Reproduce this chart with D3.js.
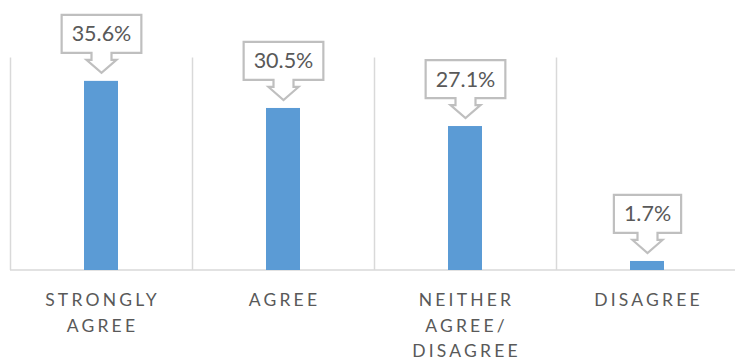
<!DOCTYPE html>
<html><head><meta charset="utf-8">
<script src="https://cdn.jsdelivr.net/npm/d3@7"></script>
<style>
html,body{margin:0;padding:0;background:#fff;}
svg{display:block;}
</style></head>
<body>
<svg id="chart" width="735" height="360"></svg>
<script>
const categories = ["STRONGLY AGREE", "AGREE", "NEITHER AGREE/ DISAGREE", "DISAGREE"];
const categoryLines = [["STRONGLY", "AGREE"], ["AGREE"], ["NEITHER", "AGREE/", "DISAGREE"], ["DISAGREE"]];
const values = [35.6, 30.5, 27.1, 1.7];
const valueLabels = ["35.6%", "30.5%", "27.1%", "1.7%"];

(function () {
const svg = d3.select("#chart");
const plotLeft = 10, plotRight = 738, plotTop = 57.5, plotBottom = 270;
const font = "Lato, 'Open Sans', sans-serif";
const textColor = "#595959";

const x = d3.scaleBand().domain(categories).range([plotLeft, plotRight]).paddingInner(0).paddingOuter(0);
const y = d3.scaleLinear().domain([0, 40]).range([plotBottom, plotTop]);

// vertical gridlines at band boundaries
const bounds = categories.map(c => x(c)).concat([plotRight]);
svg.append("g").selectAll("line").data(bounds).join("line")
  .attr("x1", d => Math.round(d) + 0.5).attr("x2", d => Math.round(d) + 0.5)
  .attr("y1", plotTop).attr("y2", plotBottom)
  .attr("stroke", "#D9D9D9").attr("stroke-width", 1.5);

// baseline
svg.append("line").attr("x1", plotLeft).attr("x2", plotRight).attr("y1", plotBottom).attr("y2", plotBottom)
  .attr("stroke", "#D9D9D9").attr("stroke-width", 1.5);

const barW = 34;
svg.append("g").selectAll("rect").data(values).join("rect")
  .attr("x", (d, i) => x(categories[i]) + x.bandwidth() / 2 - barW / 2)
  .attr("width", barW)
  .attr("y", d => y(d))
  .attr("height", d => plotBottom - y(d))
  .attr("fill", "#5B9BD5");

// callouts
const cg = svg.append("g");
values.forEach((v, i) => {
  const cx = x(categories[i]) + x.bandwidth() / 2 + 0.5;
  const tip = y(v) - 8;
  const g = cg.append("g");
  const t = g.append("text").text(valueLabels[i])
    .attr("x", cx).attr("text-anchor", "middle")
    .attr("font-family", font).attr("font-size", 21.5).attr("fill", textColor);
  const tw = t.node().getComputedTextLength();
  const bw = tw + 20, bh = 38;
  const headH = 13, shaftH = 7, shaftHalf = 10, headHalf = 15;
  const by = tip - headH - shaftH; // box bottom
  const bt = by - bh;
  const bl = cx - bw / 2, br = cx + bw / 2;
  const path = [
    [bl, bt], [br, bt], [br, by], [cx + shaftHalf, by], [cx + shaftHalf, by + shaftH],
    [cx + headHalf, by + shaftH], [cx, tip], [cx - headHalf, by + shaftH],
    [cx - shaftHalf, by + shaftH], [cx - shaftHalf, by], [bl, by]
  ];
  g.insert("path", "text").attr("d", d3.line()(path) + "Z")
    .attr("fill", "#fff").attr("stroke", "#BFBFBF").attr("stroke-width", 2.2)
    .attr("stroke-linejoin", "miter");
  t.attr("y", bt + bh / 2 + 7.5);
});

// category labels
const lg = svg.append("g");
categoryLines.forEach((lines, i) => {
  const cx = x(categories[i]) + x.bandwidth() / 2;
  lines.forEach((ln, j) => {
    lg.append("text").text(ln)
      .attr("x", cx + 1.5).attr("y", 306 + j * 25.5)
      .attr("text-anchor", "middle")
      .attr("font-family", font).attr("font-size", 17.5)
      .attr("letter-spacing", 3.2)
      .attr("fill", textColor);
  });
});
})();
</script>
</body></html>
